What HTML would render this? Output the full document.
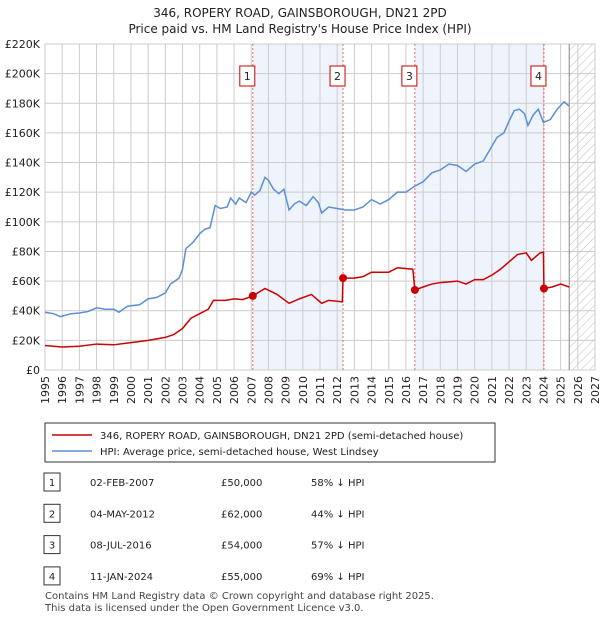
<!DOCTYPE html>
<html><head><meta charset="utf-8"><style>
body{margin:0;background:#fff;font-family:"Liberation Sans","DejaVu Sans",sans-serif;}
svg text{font-family:"DejaVu Sans","Liberation Sans",sans-serif;}
</style></head><body>
<svg id="c" width="600" height="620" xmlns="http://www.w3.org/2000/svg"></svg>
<script>
const hpiYears=[1995,1995.5,1995.9,1996.5,1997,1997.5,1998,1998.5,1999,1999.3,1999.8,2000.5,2001,2001.5,2002,2002.3,2002.8,2003,2003.2,2003.6,2004,2004.3,2004.6,2004.9,2005.2,2005.6,2005.8,2006.1,2006.3,2006.7,2007,2007.2,2007.5,2007.8,2008,2008.3,2008.6,2008.9,2009.2,2009.5,2009.8,2010.2,2010.6,2010.9,2011.1,2011.5,2012,2012.5,2013,2013.5,2014,2014.5,2015,2015.5,2016,2016.5,2017,2017.5,2018,2018.5,2019,2019.5,2020,2020.5,2021,2021.3,2021.7,2022,2022.3,2022.6,2022.9,2023.1,2023.4,2023.7,2024,2024.4,2024.8,2025.2,2025.5];
const hpiValues=[39,38,36,38,38.5,39.5,42,41,41,39,43,44,48,49,52,58,62,68,82,86,92,95,96,111,109,110,116,112,116,113,120,118,121,130,128,122,119,122,108,112,114,111,117,113,106,110,109,108,108,110,115,112,115,120,120,124,127,133,135,139,138,134,139,141,151,157,160,168,175,176,173,165,172,176,167,169,176,181,178];
const paidYears=[1995,1996,1997,1998,1999,2000,2001,2002,2002.5,2003,2003.5,2004,2004.5,2004.8,2005.5,2006,2006.5,2007.09,2007.8,2008.5,2009.2,2009.8,2010.5,2011.1,2011.5,2012.3,2012.34,2013,2013.5,2014,2015,2015.5,2016.4,2016.52,2017,2017.5,2018,2019,2019.5,2020,2020.5,2021,2021.5,2022,2022.5,2023,2023.3,2023.8,2024.0,2024.03,2024.5,2025,2025.5];
const paidValues=[16.5,15.5,16,17.5,17,18.5,20,22,24,28,35,38,41,47,47,48,47.5,50,55,51,45,48,51,45,47,46,62,62,63,66,66,69,68,54,56,58,59,60,58,61,61,64,68,73,78,79,74,79,79.5,55,56,58,56];
const saleYears=[2007.09,2012.34,2016.52,2024.03];
const saleValues=[50,62,54,55];
const yTicks=[0,20,40,60,80,100,120,140,160,180,200,220];
const xTicks=[1995,1996,1997,1998,1999,2000,2001,2002,2003,2004,2005,2006,2007,2008,2009,2010,2011,2012,2013,2014,2015,2016,2017,2018,2019,2020,2021,2022,2023,2024,2025,2026,2027];
const rows=[["1","02-FEB-2007","£50,000","58% ↓ HPI"],["2","04-MAY-2012","£62,000","44% ↓ HPI"],["3","08-JUL-2016","£54,000","57% ↓ HPI"],["4","11-JAN-2024","£55,000","69% ↓ HPI"]];

const X0=45,X1=595,Y0=370,Y1=44;
const sx=y=>X0+(y-1995)/32*(X1-X0);
const sy=v=>Y0-v/220*(Y0-Y1);
const svg=document.getElementById('c');
const NS="http://www.w3.org/2000/svg";
function mk(t,a,txt){const e=document.createElementNS(NS,t);for(const k in a)e.setAttribute(k,a[k]);if(txt!=null)e.textContent=txt;svg.appendChild(e);return e;}

let e;
e=mk('text',{x:300,y:17,'text-anchor':'middle','font-size':12,fill:'#222'},'346, ROPERY ROAD, GAINSBOROUGH, DN21 2PD');


e=mk('text',{x:300,y:33,'text-anchor':'middle','font-size':12,fill:'#222'},"Price paid vs. HM Land Registry's House Price Index (HPI)");



const defs=mk('defs',{});
defs.innerHTML='<pattern id="h" width="6" height="6" patternUnits="userSpaceOnUse" patternTransform="rotate(45)"><line x1="0" y1="0" x2="0" y2="6" stroke="#bbb" stroke-width="1"/></pattern>';
[[0,1],[2,3]].forEach(p=>{
 e=mk('rect',{x:sx(saleYears[p[0]]),y:Y1,width:sx(saleYears[p[1]])-sx(saleYears[p[0]]),height:Y0-Y1,fill:'#eef3fc'});
 
 
});
e=mk('rect',{x:sx(2025.5),y:Y1,width:X1-sx(2025.5),height:Y0-Y1,fill:'url(#h)'});



xTicks.forEach(t=>{
 e=mk('line',{x1:sx(t),x2:sx(t),y1:Y1,y2:Y0,stroke:'#ccc','stroke-width':1});
 
 
 const tx=sx(t)+4, ty=Y0+6;
 e=mk('text',{x:tx,y:ty,transform:'rotate(-90 '+tx+' '+ty+')','text-anchor':'end','font-size':11,fill:'#222'},String(t));
 
 
});
yTicks.forEach(t=>{
 e=mk('line',{x1:X0,x2:X1,y1:sy(t),y2:sy(t),stroke:'#ccc','stroke-width':1});
 
 
 e=mk('text',{x:X0-5,y:sy(t)+4,'text-anchor':'end','font-size':11,fill:'#222'},t===0?'£0':'£'+t+'K');
 
 
});
e=mk('rect',{x:X0,y:Y1,width:X1-X0,height:Y0-Y1,fill:'none',stroke:'#ccc'});


e=mk('line',{x1:sx(2025.5),x2:sx(2025.5),y1:Y1,y2:Y0,stroke:'#888'});



saleYears.forEach((s,i)=>{
 e=mk('line',{x1:sx(s),x2:sx(s),y1:Y1,y2:Y0,stroke:'#e66','stroke-dasharray':'2,2'});
 
 
 const bx=sx(s)-12;
 e=mk('rect',{x:bx-1,y:66,width:15,height:20,fill:'#fff',stroke:'#c00'});
 
 
 e=mk('text',{x:bx+6.5,y:80,'text-anchor':'middle','font-size':11,fill:'#222'},String(i+1));
 
 
});

e=mk('polyline',{points:hpiYears.map((y,i)=>sx(y)+','+sy(hpiValues[i])).join(' '),fill:'none',stroke:'#5b8fd4','stroke-width':1.5});


e=mk('polyline',{points:paidYears.map((y,i)=>sx(y)+','+sy(paidValues[i])).join(' '),fill:'none',stroke:'#cc0000','stroke-width':1.5});


saleYears.forEach((s,i)=>{
 e=mk('circle',{cx:sx(s),cy:sy(saleValues[i]),r:4,fill:'#cc0000'});
 
 
});

e=mk('rect',{x:45,y:423,width:450,height:39,fill:'#fff',stroke:'#333'});


e=mk('line',{x1:52,x2:92,y1:435,y2:435,stroke:'#cc0000','stroke-width':1.5});


e=mk('text',{x:100,y:439,'font-size':10,fill:'#222'},'346, ROPERY ROAD, GAINSBOROUGH, DN21 2PD (semi-detached house)');


e=mk('line',{x1:52,x2:92,y1:451,y2:451,stroke:'#5b8fd4','stroke-width':1.5});


e=mk('text',{x:100,y:455,'font-size':10,fill:'#222'},'HPI: Average price, semi-detached house, West Lindsey');



rows.forEach((r,i)=>{
 const y=482+i*31.3;
 e=mk('rect',{x:44,y:y-9,width:16,height:18,fill:'#fff',stroke:'#333'});
 
 
 e=mk('text',{x:52,y:y+4,'text-anchor':'middle','font-size':10,fill:'#222'},r[0]);
 
 
 e=mk('text',{x:90,y:y+4,'font-size':10,fill:'#222'},r[1]);
 
 
 e=mk('text',{x:221,y:y+4,'font-size':10,fill:'#222'},r[2]);
 
 
 e=mk('text',{x:311,y:y+4,'font-size':10,fill:'#222'},r[3]);
 
 
});
e=mk('text',{x:45,y:599,'font-size':10,fill:'#444'},'Contains HM Land Registry data © Crown copyright and database right 2025.');


e=mk('text',{x:45,y:611,'font-size':10,fill:'#444'},'This data is licensed under the Open Government Licence v3.0.');


</script>
</body></html>
